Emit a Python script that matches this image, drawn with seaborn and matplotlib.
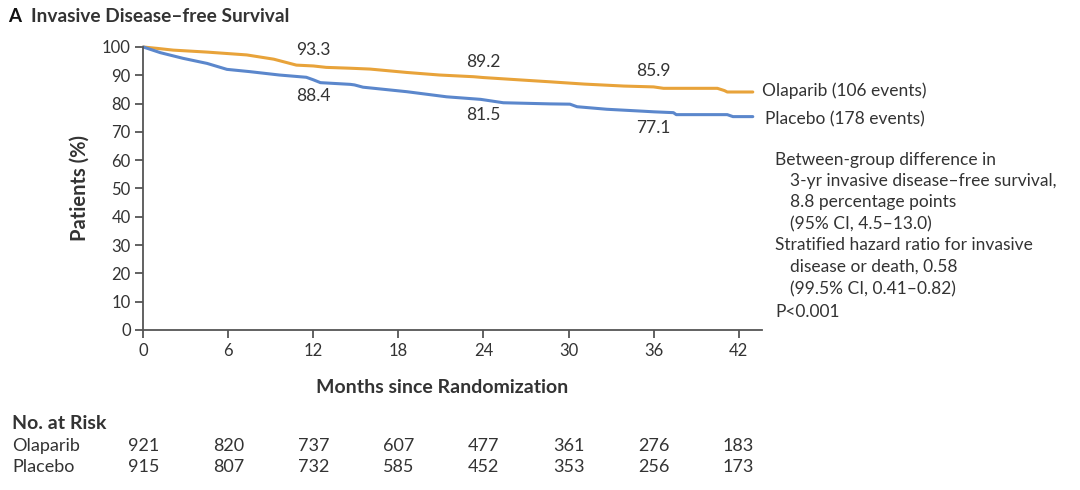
import numpy as np
import pandas as pd
import matplotlib
matplotlib.use("Agg")
import matplotlib.pyplot as plt
import matplotlib.transforms as mtransforms
import seaborn as sns

# ---------------- data ----------------
ola_months = [0, 1.0, 2.1, 4.5, 7.3, 9.2, 10.8, 12.0, 12.9, 14.6, 16.0, 18.6, 20.9, 23.3, 24.0,
              26.8, 28.7, 31.1, 33.9, 36.0, 36.7, 40.5, 41.0, 41.2, 43.0]
ola_surv = [100, 99.5, 98.9, 98.2, 97.2, 95.7, 93.6, 93.3, 92.8, 92.5, 92.2, 91.0, 90.1, 89.5, 89.2,
            88.3, 87.7, 86.9, 86.2, 85.9, 85.4, 85.4, 84.6, 84.1, 84.1]

pla_months = [0, 1.2, 2.8, 4.5, 5.9, 7.5, 9.6, 11.5, 12.0, 12.5, 14.6, 14.9, 15.5, 18.6, 21.4,
              23.8, 25.4, 28.7, 30.1, 30.6, 32.7, 35.3, 36.0, 37.4, 37.6, 41.2, 41.6, 43.0]
pla_surv = [100, 98.0, 96.0, 94.2, 92.1, 91.3, 90.1, 89.3, 88.4, 87.4, 86.8, 86.6, 85.8, 84.2, 82.4,
            81.5, 80.3, 79.9, 79.8, 78.9, 78.0, 77.3, 77.1, 76.8, 76.1, 76.1, 75.4, 75.4]

groups = ["Olaparib", "Placebo"]
events = [106, 178]
colors = ["#E8A33A", "#5B87CC"]

landmark_months = [12, 24, 36]
ola_landmarks = [93.3, 89.2, 85.9]
pla_landmarks = [88.4, 81.5, 77.1]

x_ticks = [0, 6, 12, 18, 24, 30, 36, 42]
y_ticks = list(range(0, 101, 10))
ola_at_risk = [921, 820, 737, 607, 477, 361, 276, 183]
pla_at_risk = [915, 807, 732, 585, 452, 353, 256, 173]

stats_lines = [
    ("Between-group difference in", 0),
    ("3-yr invasive disease\u2013free survival,", 1),
    ("8.8 percentage points", 1),
    ("(95% CI, 4.5\u201313.0)", 1),
    ("Stratified hazard ratio for invasive", 0),
    ("disease or death, 0.58", 1),
    ("(99.5% CI, 0.41\u20130.82)", 1),
    ("P<0.001", 0),
]

# ---------------- style ----------------
sns.set_theme(style="ticks")
plt.rcParams["font.family"] = ["Lato", "DejaVu Sans"]
TXT = "#333333"
AX = "#555555"
FS = 12.5

W, H = 1080, 490
fig = plt.figure(figsize=(W / 100, H / 100), dpi=100)
x0, x1, y0, y1 = 143.3, 762, 47, 330
ax = fig.add_axes([x0 / W, 1 - y1 / H, (x1 - x0) / W, (y1 - y0) / H])

df = pd.concat([
    pd.DataFrame({"month": ola_months, "surv": ola_surv, "group": groups[0]}),
    pd.DataFrame({"month": pla_months, "surv": pla_surv, "group": groups[1]}),
])
sns.lineplot(data=df, x="month", y="surv", hue="group", palette=colors,
             linewidth=2.2, legend=False, ax=ax, estimator=None, sort=False)
for ln in ax.lines:
    ln.set_clip_on(False)
    ln.set_solid_joinstyle("round")

ax.set_xlim(0, 43.65)
ax.set_ylim(0, 100)
ax.set_xticks(x_ticks)
ax.set_yticks(y_ticks)
ax.tick_params(axis="both", direction="out", length=6, width=1.3, color=AX,
               labelsize=12, labelcolor=TXT, pad=3)
for s in ["top", "right"]:
    ax.spines[s].set_visible(False)
for s in ["left", "bottom"]:
    ax.spines[s].set_color(AX)
    ax.spines[s].set_linewidth(1.3)
ax.set_xlabel("Months since Randomization", fontsize=14, fontweight="bold", color=TXT)
ax.set_ylabel("Patients (%)", fontsize=14.5, fontweight="bold", color=TXT)
ax.xaxis.set_label_coords(0.483, -0.172)
ax.yaxis.set_label_coords(-0.086, 0.5)

# landmark values
for m, v in zip(landmark_months, ola_landmarks):
    ax.annotate(f"{v}", (m, v), xytext=(0, 8), textcoords="offset pixels",
                ha="center", va="bottom", fontsize=FS, color=TXT)
for m, v in zip(landmark_months, pla_landmarks):
    ax.annotate(f"{v}", (m, v), xytext=(0, -8), textcoords="offset pixels",
                ha="center", va="top", fontsize=FS, color=TXT)

# line labels
ax.annotate(f"{groups[0]} ({events[0]} events)", (ola_months[-1], ola_surv[-1]),
            xytext=(9, 1), textcoords="offset pixels", ha="left", va="center",
            fontsize=FS, color=TXT, annotation_clip=False)
ax.annotate(f"{groups[1]} ({events[1]} events)", (pla_months[-1], pla_surv[-1]),
            xytext=(12, -3), textcoords="offset pixels", ha="left", va="center",
            fontsize=FS, color=TXT, annotation_clip=False)

# stats text
ys = [160, 181, 202, 224, 245, 267, 289, 312]
for (t, ind), yy in zip(stats_lines, ys):
    fig.text((775 + 15 * ind) / W, 1 - yy / H, t, ha="left", va="center",
             fontsize=FS, color=TXT)

# title
fig.text(8 / W, 1 - 17 / H, "A", ha="left", va="center", fontsize=13.5,
         fontweight="bold", color="#111111")
fig.text(31 / W, 1 - 17 / H, "Invasive Disease\u2013free Survival", ha="left", va="center",
         fontsize=13.8, fontweight="bold", color=TXT)

# number at risk
fig.text(12 / W, 1 - 423 / H, "No. at Risk", ha="left", va="center", fontsize=14,
         fontweight="bold", color=TXT)
tr = mtransforms.blended_transform_factory(ax.transData, fig.transFigure)
for name, vals, yy in [(groups[0], ola_at_risk, 446), (groups[1], pla_at_risk, 467)]:
    fig.text(12 / W, 1 - yy / H, name, ha="left", va="center", fontsize=13, color=TXT)
    for m, v in zip(x_ticks, vals):
        ax.text(m, 1 - yy / H, f"{v}", transform=tr, ha="center", va="center",
                fontsize=13, color=TXT)

fig.savefig("out.png", dpi=100, facecolor="white")
